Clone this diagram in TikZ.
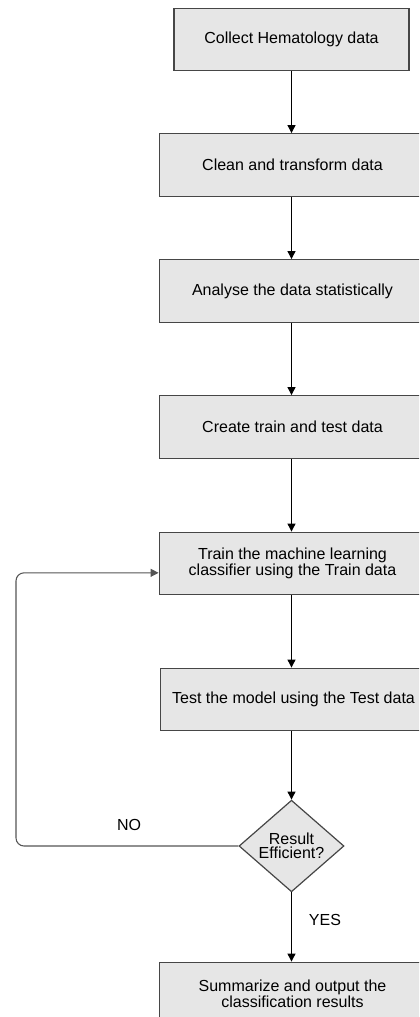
\documentclass[tikz,border=0pt]{standalone}
\usepackage{fontspec}
\setmainfont{Liberation Sans}
\usetikzlibrary{shapes.geometric,arrows.meta}
\definecolor{boxfill}{RGB}{230,230,230}
\definecolor{boxline}{RGB}{70,70,70}
\definecolor{loopline}{RGB}{85,85,85}
\begin{document}
\begin{tikzpicture}[x=0.75pt,y=-0.75pt,
  every node/.style={font=\fontsize{12pt}{10.8pt}\selectfont},
  stepbox/.style={draw=boxline, line width=0.9pt, fill=boxfill, align=center,
    minimum width=200pt, minimum height=47pt, inner sep=0pt},
  decide/.style={diamond, draw=boxline, line width=0.9pt, fill=boxfill, align=center,
    minimum width=78.75pt, minimum height=61.5pt, inner sep=0pt},
  flow/.style={line width=0.8pt, -{Triangle[length=6pt,width=6pt]}},
  back/.style={draw=loopline, line width=0.8pt, rounded corners=6pt,
    -{Triangle[length=6pt,width=6pt]}}]
  \path[use as bounding box, clip] (0,0) rectangle (419,1017);
  \node[stepbox, minimum width=176.25pt] (collect) at (291.5,39.5) {Collect Hematology data};
  \node[stepbox] (clean) at (292.5,165) {Clean and transform data};
  \node[stepbox] (analyse) at (292.5,291) {Analyse the data statistically};
  \node[stepbox] (create) at (292.5,427) {Create train and test data};
  \node[stepbox] (train) at (292.5,563.5) {Train the machine learning\\classifier using the Train data};
  \node[stepbox] (test) at (293.5,699.5) {Test the model using the Test data};
  \node[decide] (result) at (291.5,846) {Result\\Efficient?};
  \node[stepbox] (summary) at (292.5,993.5) {Summarize and output the\\classification results};
  \coordinate (bend) at (16,846);
  \draw[flow] (collect) -- (collect |- clean.north);
  \draw[flow] (collect |- clean.south) -- (collect |- analyse.north);
  \draw[flow] (collect |- analyse.south) -- (collect |- create.north);
  \draw[flow] (collect |- create.south) -- (collect |- train.north);
  \draw[flow] (collect |- train.south) -- (collect |- test.north);
  \draw[flow] (collect |- test.south) -- (result);
  \draw[flow] (result) -- (result |- summary.north);
  \draw[back] (result.west) -- (bend) |- ([yshift=-7pt]train.west);
  \node (no) at (129,825) {NO};
  \node (yes) at (325,920) {YES};
\end{tikzpicture}
\end{document}
